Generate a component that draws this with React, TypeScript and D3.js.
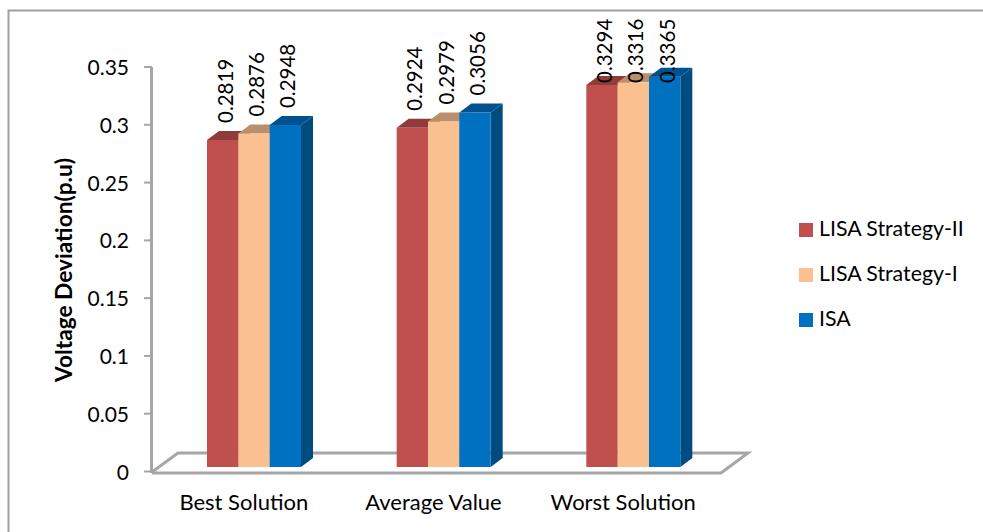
import React from "react";
import * as d3 from "d3";

const categories = ["Best Solution", "Average Value", "Worst Solution"];
const seriesNames = ["LISA Strategy-II", "LISA Strategy-I", "ISA"];
const strategy2Values = [0.2819, 0.2924, 0.3294];
const strategy1Values = [0.2876, 0.2979, 0.3316];
const isaValues = [0.2948, 0.3056, 0.3365];
const yTicks = [0, 0.05, 0.1, 0.15, 0.2, 0.25, 0.3, 0.35];

const seriesValues = [strategy2Values, strategy1Values, isaValues];
const frontColors = ["#c0504d", "#fac090", "#0070c0"];
const topColors = ["#8e3b39", "#b98e6a", "#00528f"];
const sideColors = ["#8e3b39", "#b98e6a", "#004b80"];

const width = 983;
const height = 532;
const depthX = 12;
const depthY = 9;
const font = "Lato, Carlito, sans-serif";

const App: React.FC = () => {
  const x0 = d3.scaleBand<string>().domain(categories).range([152, 721]);
  const x1 = d3.scaleBand<string>().domain(seriesNames).range([55, 149]);
  // the axis sits on the front of the floor, the bars stand a bit further in
  const yAxis = d3.scaleLinear().domain([0, 0.35]).range([471.5, 67]);
  const yBar = d3.scaleLinear().domain([0, 0.35]).range([467, 61]);
  const legendY = d3.scalePoint<string>().domain(seriesNames).range([230, 320]);

  const floor = d3.line()([
    [152, 472],
    [178, 453],
    [748, 453],
    [721, 473],
    [152, 473],
  ]);

  return (
    <svg
      width={width}
      height={height}
      style={{ position: "absolute", left: 0, top: 0, background: "#fff" }}
      fontFamily={font}
    >
      <path d={`M8.5 532V10.5H983`} fill="none" stroke="#a0a0a0" strokeWidth={2} />

      <path d={floor ?? ""} fill="none" stroke="#a6a6a6" strokeWidth={3} />
      <line x1={151.5} x2={151.5} y1={67} y2={473} stroke="#a6a6a6" strokeWidth={3} />
      {yTicks.map((t) => (
        <g key={t}>
          <line x1={144} x2={152} y1={yAxis(t)} y2={yAxis(t)} stroke="#a6a6a6" strokeWidth={2} />
          <text x={129} y={yAxis(t) + 8} textAnchor="end" fontSize={21} fill="#000">
            {t}
          </text>
        </g>
      ))}

      {categories.map((cat, ci) => (
        <g key={cat} transform={`translate(${x0(cat)},0)`}>
          {seriesNames.map((name, si) => {
            const v = seriesValues[si][ci];
            const left = x1(name) ?? 0;
            const w = x1.bandwidth();
            const top = yBar(v);
            const right = left + w;
            const base = yBar(0);
            return (
              <g key={name}>
                <path
                  d={`M${right} ${base}L${right + depthX} ${base - depthY}V${top - depthY}L${right} ${top}Z`}
                  fill={sideColors[si]}
                />
                <path
                  d={`M${left} ${top}L${left + depthX} ${top - depthY}H${right + depthX}L${right} ${top}Z`}
                  fill={topColors[si]}
                />
                <rect x={left} y={top} width={w} height={base - top} fill={frontColors[si]} />
              </g>
            );
          })}
          {seriesNames.map((name, si) => {
            const v = seriesValues[si][ci];
            const cx = (x1(name) ?? 0) + x1.bandwidth() / 2 + 2;
            // tall labels get pushed down so they stay inside the chart area
            const cy = Math.max(yBar(v) - 17, 83);
            return (
              <text
                key={name}
                transform={`translate(${cx},${cy}) rotate(-90)`}
                dominantBaseline="central"
                fontSize={20.5}
                fill="#000"
              >
                {v}
              </text>
            );
          })}
          <text
            x={x0.bandwidth() / 2 - 3}
            y={510}
            textAnchor="middle"
            fontSize={22}
            fill="#000"
          >
            {cat}
          </text>
        </g>
      ))}

      <text
        transform="translate(72,270) rotate(-90)"
        textAnchor="middle"
        fontSize={22.7}
        fontWeight="bold"
        fill="#000"
      >
        Voltage Deviation(p.u)
      </text>

      {seriesNames.map((name, si) => (
        <g key={name} transform={`translate(0,${legendY(name)})`}>
          <rect x={799} y={-7} width={14} height={14} fill={frontColors[si]} />
          <text x={819} y={6} fontSize={21.3} fill="#000">
            {name}
          </text>
        </g>
      ))}
    </svg>
  );
};

export default App;
